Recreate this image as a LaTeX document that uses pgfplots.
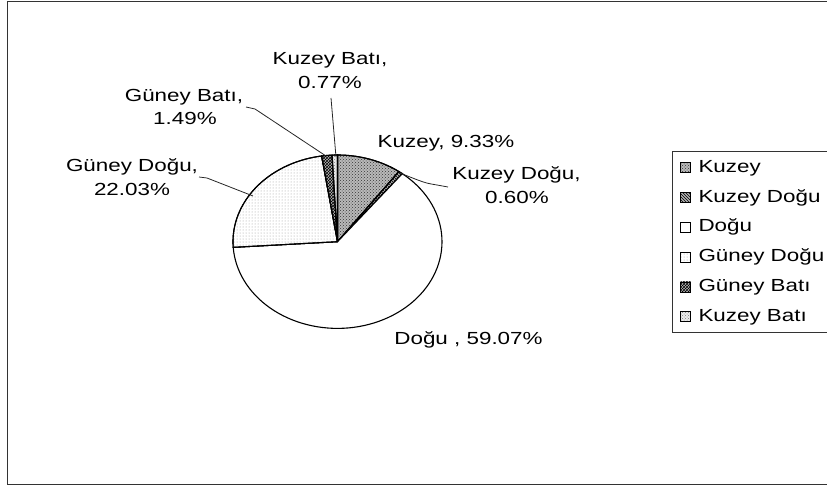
\documentclass[border=0pt]{standalone}
\usepackage{fontspec}
\setmainfont{Liberation Sans}[FakeStretch=1.28]
\usepackage{pgfplots}
\pgfplotsset{compat=1.18}
\usetikzlibrary{patterns}
\begin{document}%
\begin{tikzpicture}[font=\fontsize{17.5}{21}\selectfont]
% slice values (percent labels as given in the chart)
\pgfmathsetmacro\tot{9.33+0.60+59.07+22.03+1.49+0.77}
\pgfmathsetmacro\aA{90}
\pgfmathsetmacro\aB{\aA-9.33/\tot*360}
\pgfmathsetmacro\aC{\aB-0.60/\tot*360}
\pgfmathsetmacro\aD{\aC-59.07/\tot*360}
\pgfmathsetmacro\aE{\aD-22.03/\tot*360}
\pgfmathsetmacro\aF{\aE-1.49/\tot*360}
\pgfmathsetmacro\aG{\aF-0.77/\tot*360}
\def\cx{337.5}\def\cy{246.3}\def\rx{104.5}\def\ry{86.7}
\begin{axis}[at={(0,0)}, anchor=south west, scale only axis,
  width=827pt, height=488pt, xmin=0, xmax=827, ymin=0, ymax=488,
  hide axis, clip=false,
  legend image code/.code={\draw[#1,draw=black,line width=0.6pt] (0pt,-5pt) rectangle (10pt,5pt);},
  legend cell align=left,
  legend style={at={(0.8126,0.6906)}, anchor=north west, draw=black!80, line width=0.8pt,
    font=\fontsize{17.5}{21}\selectfont, inner xsep=8pt, inner ysep=7pt, row sep=11.3pt, column sep=6pt,
    nodes={inner sep=1.5pt, text height=12.5pt, text depth=3pt}},
  every axis plot/.append style={line width=1.1pt, draw=black, samples=80}]
\addplot[fill=gray!55, postaction={pattern=crosshatch dots, pattern color=black!80}, domain=\aB:\aA, variable=\t]
  ({\cx+\rx*cos(\t)},{\cy+\ry*sin(\t)}) -- (axis cs:\cx,\cy) -- cycle;
\addlegendentry{Kuzey}
\addplot[fill=gray!60, postaction={pattern=north west lines, pattern color=black}, domain=\aC:\aB, variable=\t]
  ({\cx+\rx*cos(\t)},{\cy+\ry*sin(\t)}) -- (axis cs:\cx,\cy) -- cycle;
\addlegendentry{Kuzey Doğu}
\addplot[fill=white, domain=\aD:\aC, variable=\t]
  ({\cx+\rx*cos(\t)},{\cy+\ry*sin(\t)}) -- (axis cs:\cx,\cy) -- cycle;
\addlegendentry{Doğu}
\addplot[fill=white, postaction={pattern=dots, pattern color=gray!80}, domain=\aE:\aD, variable=\t]
  ({\cx+\rx*cos(\t)},{\cy+\ry*sin(\t)}) -- (axis cs:\cx,\cy) -- cycle;
\addlegendentry{Güney Doğu}
\addplot[fill=gray!55, postaction={pattern=crosshatch, pattern color=black}, domain=\aF:\aE, variable=\t]
  ({\cx+\rx*cos(\t)},{\cy+\ry*sin(\t)}) -- (axis cs:\cx,\cy) -- cycle;
\addlegendentry{Güney Batı}
\addplot[fill=gray!15, postaction={pattern=crosshatch dots, pattern color=gray}, domain=\aG:\aF, variable=\t]
  ({\cx+\rx*cos(\t)},{\cy+\ry*sin(\t)}) -- (axis cs:\cx,\cy) -- cycle;
\addlegendentry{Kuzey Batı}
% outer chart border
\draw[black!80, line width=1pt] (axis cs:7,486) -- (axis cs:840,486) (axis cs:7,486) -- (axis cs:7,4) -- (axis cs:840,4);
% leader lines
\draw[black!85, line width=0.8pt] (axis cs:331,390) -- (axis cs:336,331);
\draw[black!85, line width=0.8pt] (axis cs:246,381) -- (axis cs:255,379) -- (axis cs:326,332);
\draw[black!85, line width=0.8pt] (axis cs:199,311) -- (axis cs:207,310) -- (axis cs:253,292);
\draw[black!85, line width=0.8pt] (axis cs:400,315) .. controls (axis cs:425,305) .. (axis cs:437,303) -- (axis cs:448,301);
% data labels
\node[anchor=base] at (axis cs:330,423.2) {Kuzey Batı,};
\node[anchor=base] at (axis cs:330,399.7) {0.77\%};
\node[anchor=base] at (axis cs:184,386.3) {Güney Batı,};
\node[anchor=base] at (axis cs:185,363) {1.49\%};
\node[anchor=base] at (axis cs:132,316.3) {Güney Doğu,};
\node[anchor=base] at (axis cs:132,292.3) {22.03\%};
\node[anchor=base] at (axis cs:446,340.7) {Kuzey, 9.33\%};
\node[anchor=base] at (axis cs:516.5,308) {Kuzey Doğu,};
\node[anchor=base] at (axis cs:517,284) {0.60\%};
\node[anchor=base] at (axis cs:468.5,144) {Doğu , 59.07\%};
\end{axis}
\pgfresetboundingbox
\useasboundingbox (0,0) rectangle (827pt,488pt);
\end{tikzpicture}%
\end{document}
